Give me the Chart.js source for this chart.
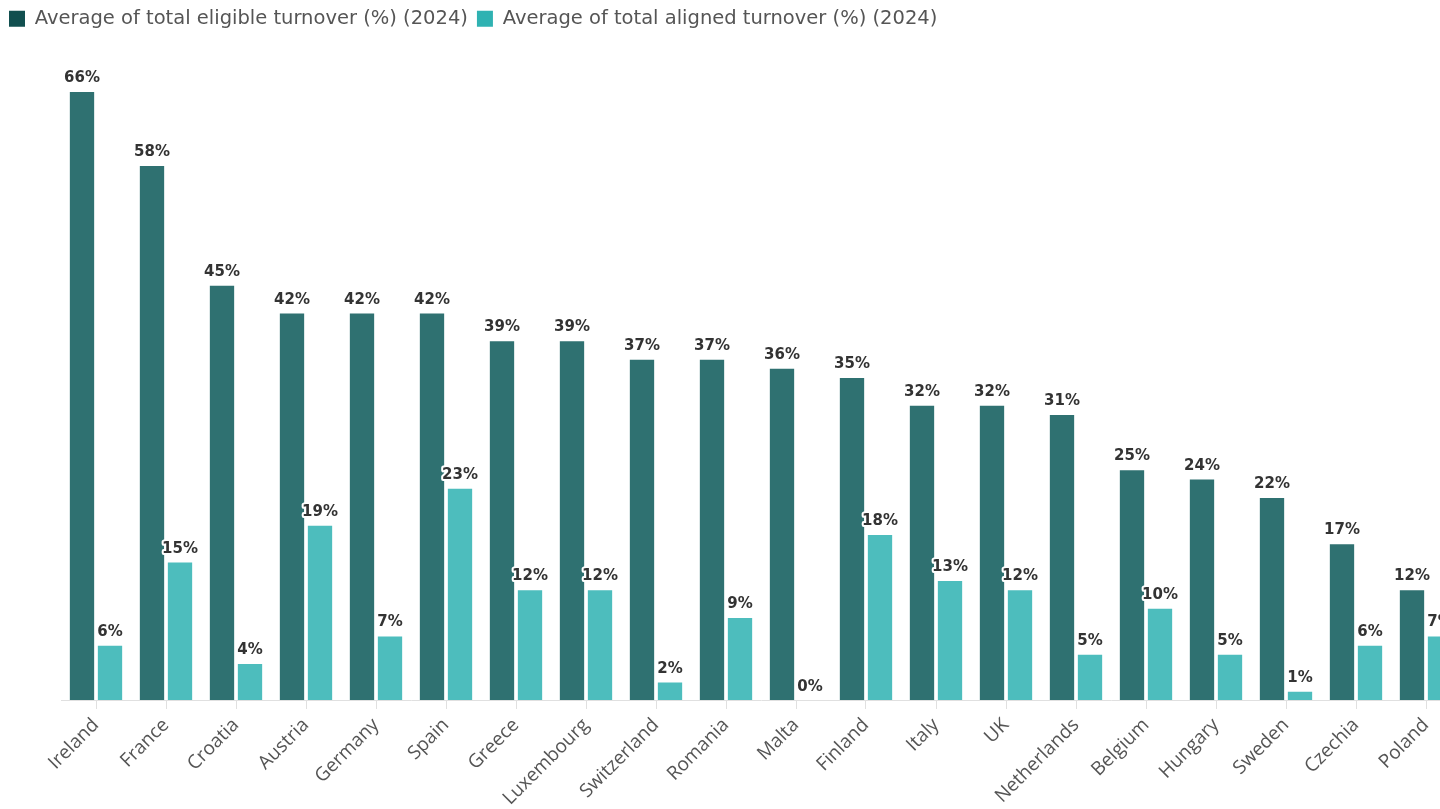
<!DOCTYPE html>
<html>
<head>
<meta charset="utf-8">
<script src="https://cdn.jsdelivr.net/npm/chart.js@4.4.1/dist/chart.umd.min.js"></script>
<style>
  html, body { margin: 0; padding: 0; background: #fff; overflow: hidden; }
  #wrap { position: relative; width: 1470px; height: 809px; }
</style>
</head>
<body>
<div id="wrap"><canvas id="turnoverChart"></canvas></div>
<script>
const countries = ['Ireland', 'France', 'Croatia', 'Austria', 'Germany', 'Spain', 'Greece', 'Luxembourg', 'Switzerland', 'Romania',
    'Malta', 'Finland', 'Italy', 'UK', 'Netherlands', 'Belgium', 'Hungary', 'Sweden', 'Czechia', 'Poland'];
const eligible = [66, 58, 45, 42, 42, 42, 39, 39, 37, 37, 36, 35, 32, 32, 31, 25, 24, 22, 17, 12];
const aligned = [6, 15, 4, 19, 7, 23, 12, 12, 2, 9, 0, 18, 13, 12, 5, 10, 5, 1, 6, 7];

const darkBar = '#2f7171';
const lightBar = '#4dbdbd';
const darkKey = '#114f4f';
const lightKey = '#2fb2b2';

// etiquetas de valor em cima das barras
const valueLabels = {
    id: 'valueLabels',
    afterDatasetsDraw(chart) {
        const ctx = chart.ctx;
        ctx.save();
        ctx.font = 'bold 15px "DejaVu Sans"';
        ctx.textAlign = 'center';
        ctx.textBaseline = 'alphabetic';
        ctx.lineJoin = 'round';
        chart.data.datasets.forEach((ds, i) => {
            chart.getDatasetMeta(i).data.forEach((bar, j) => {
                const txt = ds.data[j] + '%';
                const y = bar.y - 9;
                ctx.strokeStyle = '#fff';
                ctx.lineWidth = 4;
                ctx.strokeText(txt, bar.x, y);
                ctx.fillStyle = '#333';
                ctx.fillText(txt, bar.x, y);
            });
        });
        ctx.restore();
    }
};

new Chart(document.getElementById('turnoverChart'), {
    type: 'bar',
    data: {
        labels: countries,
        datasets: [
            {
                label: 'Average of total eligible turnover (%) (2024)',
                data: eligible,
                backgroundColor: darkBar,
                borderColor: '#fff',
                borderWidth: 1
            },
            {
                label: 'Average of total aligned turnover (%) (2024)',
                data: aligned,
                backgroundColor: lightBar,
                borderColor: '#fff',
                borderWidth: 1
            }
        ]
    },
    options: {
        responsive: true,
        maintainAspectRatio: false,
        animation: false,
        datasets: {
            bar: { categoryPercentage: 0.8, barPercentage: 0.94 }
        },
        layout: { padding: { top: 0, right: 9 } },
        plugins: {
            tooltip: { enabled: false },
            legend: {
                position: 'top',
                align: 'start',
                labels: {
                    boxWidth: 16,
                    boxHeight: 16,
                    padding: 9,
                    color: '#555',
                    font: { family: '"DejaVu Sans"', size: 19.5 },
                    generateLabels(chart) {
                        const items = Chart.defaults.plugins.legend.labels.generateLabels(chart);
                        items.forEach((it, k) => {
                            it.fillStyle = k === 0 ? darkKey : lightKey;
                            it.strokeStyle = it.fillStyle;
                            it.lineWidth = 0;
                        });
                        return items;
                    }
                }
            }
        },
        scales: {
            x: {
                grid: { display: true, drawOnChartArea: false, offset: false, color: '#e0e0e0', tickLength: 9 },
                border: { color: '#e0e0e0' },
                ticks: {
                    color: '#555',
                    font: { family: '"Open Sans"', size: 19 },
                    maxRotation: 45,
                    minRotation: 45,
                    autoSkip: false,
                    padding: 5
                },
                afterFit(scale) { scale.height = 109; }
            },
            y: {
                min: 0,
                max: 71.7,
                display: true,
                grid: { display: false },
                border: { display: false },
                ticks: { display: false },
                afterFit(scale) { scale.width = 61; }
            }
        }
    },
    plugins: [valueLabels]
});
</script>
</body>
</html>
